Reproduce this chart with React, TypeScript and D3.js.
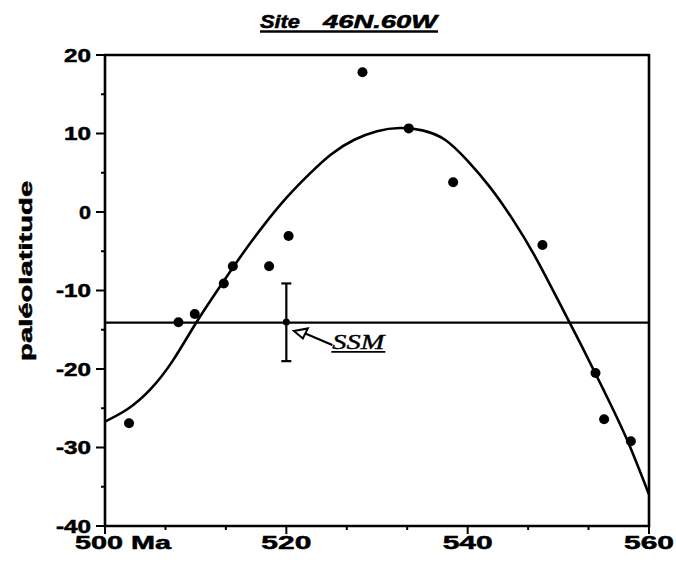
import React from "react";
import * as d3 from "d3";

// ---- data ----
const pointAges = [502.65, 508.1, 509.9, 513.1, 514.1, 518.1, 520.25, 528.4, 533.5, 538.4, 548.25, 554.1, 555.05, 558.0];
const pointLats = [-26.9, -14.05, -13.0, -9.1, -6.9, -6.9, -3.05, 17.8, 10.65, 3.8, -4.2, -20.5, -26.4, -29.2];

const curveAges = [500, 502.5, 505, 507.5, 510, 512.5, 515, 517.5, 520, 522.5, 525, 527.5, 530, 532.5, 535, 537.5, 540, 542.5, 545, 547.5, 550, 552.5, 555, 557.5, 560];
const curveLats = [-26.7, -25.1, -22.6, -18.9, -14.2, -9.8, -5.6, -1.7, 1.8, 4.8, 7.4, 9.2, 10.3, 10.7, 10.4, 9.2, 6.5, 3.1, -1.0, -5.8, -11.3, -16.9, -22.7, -28.8, -36.0];

const refLat = -14.1; // horizontal reference line
const ssmAge = 520.0;
const ssmLat = -14.0;
const ssmLow = -19.0;
const ssmHigh = -9.1;

const yTicks = [20, 10, 0, -10, -20, -30, -40];
const yMinorTicks = [15, 5, -5, -15, -25, -35];
const xTicks = [500, 520, 540, 560];
const xTickLabels = ["500 Ma", "520", "540", "560"];
const xMinorTicks = [506.67, 513.33, 526.67, 533.33, 546.67, 553.33];

const title1 = "Site";
const title2 = "46N.60W";
const yLabel = "paléolatitude";
const ssmLabel = "SSM";

const W = 676;
const H = 565;

export default function App() {
  const x = d3.scaleLinear().domain([500, 560]).range([105, 649]);
  const y = d3.scaleLinear().domain([-40, 20]).range([526, 55]);

  const curvePts: [number, number][] = curveAges.map((a, i) => [a, curveLats[i]]);
  const line = d3
    .line<[number, number]>()
    .x((d) => x(d[0]))
    .y((d) => y(d[1]))
    .curve(d3.curveNatural);

  const num = "'Liberation Sans', Arial, Helvetica, sans-serif";
  const serif = "'Liberation Serif', 'Times New Roman', serif";
  const heavy = { stroke: "#000", strokeWidth: 0.5 };

  const sx = x(ssmAge);
  const sy = y(ssmLat);
  // arrow geometry relative to the SSM point
  const tipX = sx + 7.5;
  const tipY = sy + 9;

  return (
    <svg
      width={W}
      height={H}
      viewBox={`0 0 ${W} ${H}`}
      style={{ position: "absolute", left: 0, top: 0, background: "#fff" }}
    >
      <rect x={0} y={0} width={W} height={H} fill="#fff" />

      {/* title */}
      <text
        x={260}
        y={28}
        fontFamily={num}
        fontWeight="bold"
        fontStyle="italic"
        fontSize={18}
        textLength={40}
        lengthAdjust="spacingAndGlyphs"
        {...heavy}
      >
        {title1}
      </text>
      <text
        x={323}
        y={28}
        fontFamily={num}
        fontWeight="bold"
        fontStyle="italic"
        fontSize={18}
        textLength={114}
        lengthAdjust="spacingAndGlyphs"
        {...heavy}
      >
        {title2}
      </text>
      <line x1={260} x2={438} y1={31.5} y2={31.5} stroke="#000" strokeWidth={2.4} />

      {/* frame */}
      <path
        d={`M${x(500)},${y(20)} H${x(560)} V${y(-40)} H${x(500)} Z`}
        fill="none"
        stroke="#000"
        strokeWidth={2.6}
      />

      {/* y ticks */}
      {yTicks.map((t) => (
        <g key={"yt" + t}>
          <line x1={x(500) - 9} x2={x(500)} y1={y(t)} y2={y(t)} stroke="#000" strokeWidth={2} />
          <text
            x={91}
            y={y(t) + 6.5}
            textAnchor="end"
            fontFamily={num}
            fontWeight="bold"
            fontSize={18}
            textLength={t === 0 ? 12 : t < 0 ? 35 : 27}
            lengthAdjust="spacingAndGlyphs"
            {...heavy}
          >
            {String(t)}
          </text>
        </g>
      ))}
      {yMinorTicks.map((t) => (
        <line key={"ym" + t} x1={x(500) - 4} x2={x(500)} y1={y(t)} y2={y(t)} stroke="#000" strokeWidth={2} />
      ))}

      {/* x ticks */}
      {xTicks.map((t, i) => (
        <g key={"xt" + t}>
          <line x1={x(t)} x2={x(t)} y1={y(-40)} y2={y(-40) + 8} stroke="#000" strokeWidth={2} />
          {i === 0 ? (
            <text
              x={x(t) - 30}
              y={549}
              fontFamily={num}
              fontWeight="bold"
              fontSize={18}
              textLength={96}
              lengthAdjust="spacingAndGlyphs"
              {...heavy}
            >
              {xTickLabels[i]}
            </text>
          ) : (
            <text
              x={x(t)}
              y={549}
              textAnchor="middle"
              fontFamily={num}
              fontWeight="bold"
              fontSize={18}
              textLength={50}
              lengthAdjust="spacingAndGlyphs"
              {...heavy}
            >
              {xTickLabels[i]}
            </text>
          )}
        </g>
      ))}
      {xMinorTicks.map((t) => (
        <line key={"xm" + t} x1={x(t)} x2={x(t)} y1={y(-40)} y2={y(-40) + 4} stroke="#000" strokeWidth={2} />
      ))}

      {/* y label */}
      <text
        transform={`translate(32, ${y(-7.5)}) rotate(-90)`}
        textAnchor="middle"
        fontFamily={num}
        fontWeight="bold"
        fontSize={18}
        textLength={180}
        lengthAdjust="spacingAndGlyphs"
        {...heavy}
      >
        {yLabel}
      </text>

      {/* horizontal reference line */}
      <line x1={x(500)} x2={x(560)} y1={y(refLat)} y2={y(refLat)} stroke="#000" strokeWidth={2.2} />

      {/* fitted curve */}
      <path d={line(curvePts) || ""} fill="none" stroke="#000" strokeWidth={2.6} />

      {/* data points */}
      {pointAges.map((a, i) => (
        <circle key={"p" + i} cx={x(a)} cy={y(pointLats[i])} r={5} fill="#000" />
      ))}

      {/* SSM error bar */}
      <line x1={sx} x2={sx} y1={y(ssmHigh)} y2={y(ssmLow)} stroke="#000" strokeWidth={2.2} />
      <line x1={sx - 5} x2={sx + 5} y1={y(ssmHigh)} y2={y(ssmHigh)} stroke="#000" strokeWidth={2.2} />
      <line x1={sx - 5} x2={sx + 5} y1={y(ssmLow)} y2={y(ssmLow)} stroke="#000" strokeWidth={2.2} />
      <circle cx={sx} cy={sy} r={3.5} fill="#000" />

      {/* arrow */}
      <path
        d={`M${tipX},${tipY} L${tipX + 14},${tipY - 2.5} L${tipX + 9},${tipY + 7.5} Z`}
        fill="#fff"
        stroke="#000"
        strokeWidth={2}
        strokeLinejoin="miter"
      />
      <line x1={tipX + 11.5} x2={sx + 46} y1={tipY + 2.5} y2={sy + 23} stroke="#000" strokeWidth={2.2} />

      {/* SSM label */}
      <text
        x={sx + 46}
        y={sy + 27.5}
        fontFamily={serif}
        fontStyle="italic"
        fontSize={21}
        textLength={52}
        lengthAdjust="spacingAndGlyphs"
        stroke="#000"
        strokeWidth={0.4}
      >
        {ssmLabel}
      </text>
      <line x1={sx + 45} x2={sx + 99} y1={sy + 30} y2={sy + 30} stroke="#000" strokeWidth={1.8} />
    </svg>
  );
}
